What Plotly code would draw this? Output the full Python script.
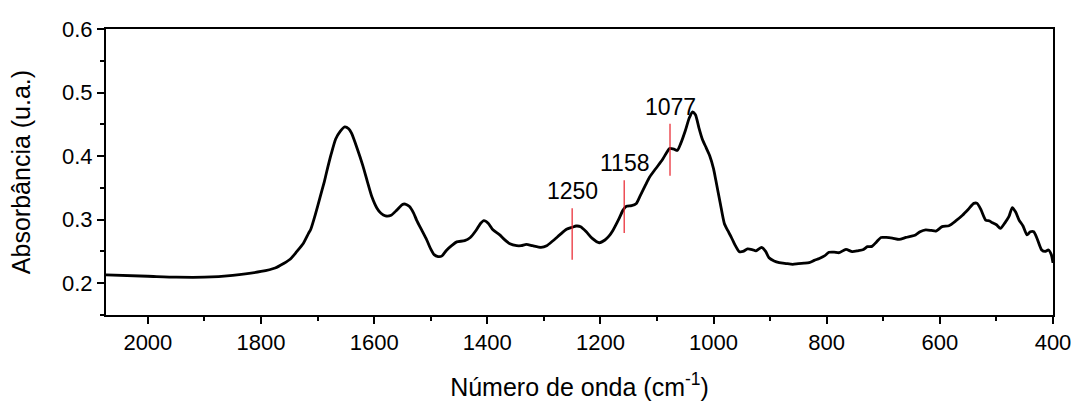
import plotly.graph_objects as go

# Spectrum (wavenumber in cm-1, absorbance in a.u.)
wavenumber = [2074, 2000, 1950, 1900, 1850, 1800, 1775, 1760, 1748, 1737, 1725, 1716, 1712, 1704, 1696,
              1688, 1684, 1676, 1668, 1660, 1652, 1645, 1640, 1630, 1620, 1612, 1604, 1595, 1588, 1580, 1570,
              1560, 1550, 1545, 1538, 1530, 1525, 1515, 1507, 1500, 1494, 1487, 1480, 1472, 1462, 1454,
              1440, 1430, 1420, 1412, 1406, 1398, 1390, 1378, 1370, 1360, 1348, 1340, 1331, 1320, 1305,
              1295, 1285, 1272, 1260, 1250, 1243, 1235, 1225, 1215, 1202, 1192, 1185, 1178, 1168, 1160,
              1154, 1145, 1137, 1130, 1120, 1113, 1105, 1099, 1090, 1082, 1078, 1070, 1064, 1058, 1050,
              1043, 1037, 1032, 1026, 1020, 1013, 1007, 1000, 996, 988, 981, 975, 969, 962, 955,
              948, 940, 932, 925, 915, 908, 902, 893, 884, 872, 860, 850, 840, 831, 822,
              813, 804, 796, 787, 778, 766, 755, 745, 735, 728, 720, 712, 704, 695, 684,
              672, 660, 650, 643, 635, 625, 615, 607, 596, 584, 572, 560, 550, 540, 534,
              527, 519, 512, 507, 500, 493, 485, 478, 472, 466, 460, 453, 446, 440, 434,
              428, 420, 414, 408, 403, 400]
absorbance = [0.213, 0.211, 0.2095, 0.2095, 0.2125, 0.2185, 0.224, 0.231, 0.238, 0.2496, 0.263, 0.2785, 0.285, 0.308, 0.334,
              0.36, 0.375, 0.403, 0.427, 0.439, 0.446, 0.443, 0.436, 0.412, 0.385, 0.36, 0.336, 0.318, 0.31, 0.306, 0.307,
              0.315, 0.324, 0.3245, 0.321, 0.31, 0.2994, 0.282, 0.268, 0.254, 0.245, 0.242, 0.243, 0.252, 0.26, 0.265,
              0.267, 0.272, 0.283, 0.294, 0.2985, 0.294, 0.284, 0.276, 0.269, 0.262, 0.259, 0.259, 0.261, 0.259, 0.2565,
              0.259, 0.266, 0.276, 0.285, 0.288, 0.29, 0.289, 0.281, 0.271, 0.2637, 0.268, 0.274, 0.283, 0.30, 0.315,
              0.321, 0.322, 0.325, 0.337, 0.355, 0.367, 0.377, 0.384, 0.395, 0.407, 0.412, 0.411, 0.409, 0.42, 0.44,
              0.46, 0.4694, 0.465, 0.445, 0.427, 0.413, 0.401, 0.38, 0.362, 0.325, 0.294, 0.283, 0.273, 0.26, 0.25,
              0.25, 0.254, 0.253, 0.251, 0.2565, 0.25, 0.24, 0.235, 0.2324, 0.231, 0.2298, 0.231, 0.2315, 0.2324, 0.236,
              0.239, 0.243, 0.2487, 0.249, 0.248, 0.2533, 0.2496, 0.251, 0.253, 0.2575, 0.258, 0.265, 0.272, 0.272, 0.271,
              0.269, 0.272, 0.274, 0.276, 0.281, 0.284, 0.283, 0.282, 0.289, 0.2905, 0.298, 0.307, 0.316, 0.3256, 0.3256,
              0.315, 0.2994, 0.298, 0.295, 0.292, 0.2863, 0.295, 0.3046, 0.319, 0.312, 0.2994, 0.29, 0.276, 0.281, 0.281,
              0.27, 0.2523, 0.25, 0.2523, 0.245, 0.232]

# Marked bands
marker_wn = [1250, 1158, 1077]
marker_low = [0.237, 0.279, 0.369]
marker_high = [0.318, 0.362, 0.451]
marker_labels = ["1250", "1158", "1077"]

x_ticks = [2000, 1800, 1600, 1400, 1200, 1000, 800, 600, 400]
y_ticks = [0.2, 0.3, 0.4, 0.5, 0.6]

FONT = "Liberation Sans, Arial, sans-serif"

fig = go.Figure()
fig.add_trace(go.Scatter(x=wavenumber, y=absorbance, mode="lines",
                         line=dict(color="black", width=2.8, shape="spline", smoothing=0.6),
                         showlegend=False, hoverinfo="skip"))
for wn, lo, hi, lab in zip(marker_wn, marker_low, marker_high, marker_labels):
    fig.add_trace(go.Scatter(x=[wn, wn], y=[lo, hi], mode="lines",
                             line=dict(color="#e8202a", width=1.2),
                             showlegend=False, hoverinfo="skip"))
    fig.add_annotation(x=wn, y=hi, text=lab, showarrow=False, xanchor="center",
                       yanchor="bottom", yshift=2,
                       font=dict(family=FONT, size=23, color="black"))

fig.update_layout(
    width=1075, height=404,
    margin=dict(l=106, r=22, t=29, b=89),
    paper_bgcolor="white", plot_bgcolor="white",
    font=dict(family=FONT, color="black"),
    showlegend=False,
)
fig.update_xaxes(range=[2074, 400], tickvals=x_ticks, ticktext=[str(v) for v in x_ticks],
                 automargin=False,
                 showline=True, mirror=True, linecolor="black", linewidth=2,
                 ticks="outside", ticklen=7, tickwidth=2, tickcolor="black",
                 showgrid=False, zeroline=False,
                 tickfont=dict(family=FONT, size=22, color="black"),
                 minor=dict(dtick=100, tick0=0, ticks="outside", ticklen=4, tickwidth=2,
                            tickcolor="black", showgrid=False),
                 title=dict(text="Número de onda (cm<sup>-1</sup>)", standoff=24,
                            font=dict(family=FONT, size=25, color="black")))
fig.update_yaxes(range=[0.15, 0.6], tickvals=y_ticks, ticktext=[f"{v:.1f}" for v in y_ticks],
                 automargin=False,
                 showline=True, mirror=True, linecolor="black", linewidth=2,
                 ticks="outside", ticklen=7, tickwidth=2, tickcolor="black",
                 showgrid=False, zeroline=False,
                 tickfont=dict(family=FONT, size=22, color="black"),
                 minor=dict(dtick=0.05, tick0=0, ticks="outside", ticklen=4, tickwidth=2,
                            tickcolor="black", showgrid=False),
                 title=dict(text="Absorbância (u.a.)", standoff=24,
                            font=dict(family=FONT, size=25, color="black")))

fig.write_html("out.html")
